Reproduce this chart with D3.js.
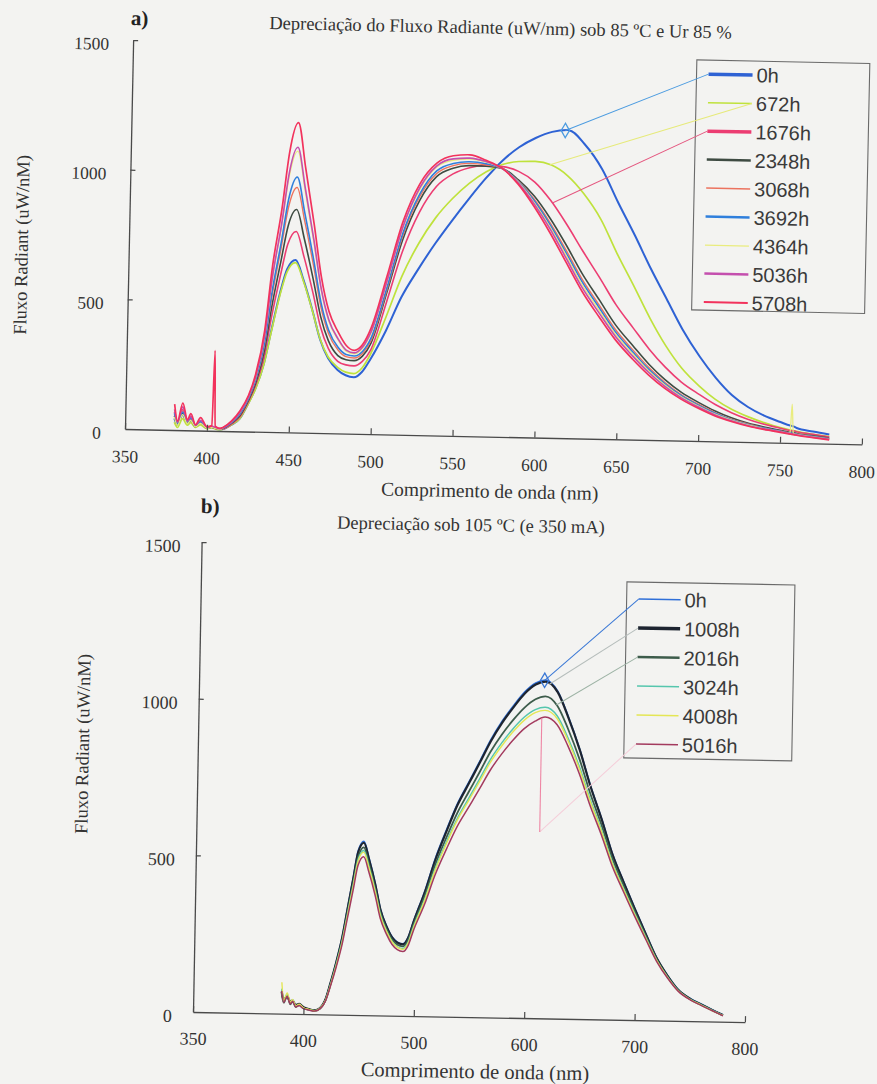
<!DOCTYPE html>
<html>
<head>
<meta charset="utf-8">
<script src="https://cdn.jsdelivr.net/npm/d3@7"></script>
<style>
body{margin:0;background:#f3f3f1;}
svg{display:block;}
</style>
</head>
<body>
<div id="chart"></div>
<script>
/* panel a) - 85 ºC / Ur 85 % */
const hoursA = ["0h","672h","1676h","2348h","3068h","3692h","4364h","5036h","5708h"];
const wavelengthA = [380,382,385,388,390,393,396,400,403,404,405,408,410,415,420,425,429,434,438,443,447,452,457,463,468,473,479,484,489,494,499,508,517,527,537,547,557,567,577,587,597,607,617,627,638,648,659,669,679,689,700,710,720,730,740,750,756,757,758,760,770,780];
const fluxA_0h = [45,20,60,25,35,15,28,10,14,12,10,6,
 8,25,50,110,165,265,390,540,630,665,590,470,360,290,245,225,218,240,290,
 400,530,640,740,830,915,995,1065,1118,1155,1180,1188,1135,1040,915,785,660,545,430,
 325,245,180,135,103,80,
 67,66,64,58,46,36];
const fluxA_672h = [30,10,45,20,30,12,22,8,12,10,8,5,
 8,25,50,108,162,262,385,532,620,655,585,468,362,295,255,237,232,255,310,
 455,610,740,840,915,975,1020,1050,1063,1065,1052,1012,945,845,718,590,470,365,280,
 212,162,125,98,76,58,
 50,49,48,45,35,28];
const fluxA_1676h = [70,25,80,30,50,18,35,12,16,14,12,8,
 9,28,56,116,177,291,443,607,725,775,680,540,410,328,278,265,262,280,325,
 510,705,860,960,1010,1035,1045,1042,1025,985,915,825,725,620,520,430,350,282,226,
 180,142,112,88,70,56,
 48,47,47,44,35,26];
const fluxA_2348h = [55,20,65,28,40,15,30,10,14,12,10,7,
 11,31,61,121,185,311,482,658,796,860,749,592,449,357,300,285,282,300,350,
 545,750,905,998,1032,1043,1042,1035,992,930,845,745,637,535,442,362,292,234,187,
 148,117,92,73,59,48,
 41,41,40,37,29,22];
const fluxA_3068h = [60,22,75,30,45,16,32,11,15,13,11,7,
 12,33,66,126,194,331,522,710,868,945,818,645,487,385,322,297,292,310,360,
 555,765,920,1010,1042,1052,1048,1035,987,918,828,725,616,515,424,346,279,223,178,
 141,111,87,70,56,45,
 39,39,38,35,27,20];
const fluxA_3692h = [65,25,70,32,48,18,34,12,16,14,12,8,
 12,34,68,128,198,340,540,732,900,985,848,668,504,398,332,305,300,318,370,
 565,775,930,1020,1050,1058,1052,1035,985,912,820,715,606,505,415,338,272,218,174,
 137,108,85,68,55,44,
 38,38,37,34,26,19];
const fluxA_4364h = [50,18,60,25,38,14,28,10,13,12,10,6,
 14,37,74,134,208,364,588,793,985,1085,930,731,550,432,360,318,308,330,390,
 585,795,948,1035,1062,1068,1058,1035,983,905,812,705,595,495,406,330,266,213,170,
 134,105,83,66,53,43,
 37,150,36,33,25,18];
const fluxA_5036h = [80,30,90,35,55,20,40,14,18,16,14,9,
 14,37,75,135,210,368,595,802,999,1100,943,741,557,438,364,322,312,335,395,
 590,800,955,1040,1068,1072,1060,1035,980,900,805,695,585,485,398,322,260,208,166,
 130,102,81,64,52,42,
 36,35,34,32,24,17];
const fluxA_5708h = [100,35,105,40,65,22,50,15,20,310,18,10,
 15,40,80,140,220,390,640,860,1080,1195,1020,800,600,470,390,340,322,345,410,
 610,820,970,1050,1080,1085,1065,1035,975,890,790,680,570,470,385,310,250,200,160,
 125,98,78,62,50,40,
 34,33,32,30,22,15];
const ticksXA = [350,400,450,500,550,600,650,700,750,800];
const labelsXA = ["350","400","450","500","550","600","650","700","750","800"];

/* panel b) - 105 ºC / 350 mA */
const hoursB = ["0h","1008h","2016h","3024h","4008h","5016h"];
const wavelengthB = [380,382,385,388,390,393,396,400,405,410,415,420,424,429,434,438,443,447,452,457,463,468,474,479,484,489,494,498,508,517,527,536,546,556,565,575,585,595,605,614,625,635,646,656,667,677,688,698,709,719,729,739,750,760,770,780];
const fluxB_0h = [75,40,60,35,45,25,30,20,15,12,20,
 50,100,170,250,335,440,525,555,500,420,340,285,252,235,230,255,300,
 400,505,600,680,750,820,885,945,995,1040,1070,1080,1045,965,860,748,640,532,440,360,275,200,145,100,72,55,38,22];
const fluxB_1008h = [70,45,55,38,42,28,32,22,16,12,20,
 50,100,168,248,332,436,520,550,496,417,338,283,250,233,228,252,297,
 396,500,595,675,745,815,880,940,990,1035,1065,1075,1042,962,858,746,638,530,438,358,273,199,144,99,71,54,37,21];
const fluxB_2016h = [65,35,58,30,40,22,28,18,14,11,19,
 48,96,163,240,322,423,505,535,483,406,330,277,244,227,222,246,290,
 385,485,575,650,718,785,847,903,950,990,1018,1028,998,925,828,722,620,517,428,350,268,196,142,98,70,53,36,21];
const fluxB_3024h = [80,38,62,33,44,24,30,19,14,11,19,
 47,94,160,236,316,415,496,525,474,398,323,270,238,220,215,238,282,
 374,472,560,632,697,762,822,876,922,960,985,993,966,897,804,703,604,505,418,343,263,193,140,97,69,52,36,20];
const fluxB_4008h = [100,42,66,36,46,26,31,20,15,11,19,
 47,93,158,233,312,410,491,520,470,395,320,268,236,218,212,235,278,
 370,467,554,626,690,754,813,866,912,950,975,983,957,889,797,697,599,501,415,340,261,192,139,96,69,52,35,20];
const fluxB_5016h = [72,36,56,32,40,22,27,17,13,10,18,
 45,90,153,226,303,398,477,505,456,383,310,259,228,211,205,227,270,
 358,452,536,606,668,730,788,840,885,923,948,962,938,872,782,684,588,492,408,334,257,189,137,95,68,51,35,19];
const ticksXB = [300,400,500,600,700,800];
const labelsXB = ["350","400","500","600","700","800"];
const ticksY = [0,500,1000,1500];

const serif = "'Liberation Serif','Times New Roman',serif";
const sans = "'Liberation Sans',Arial,sans-serif";

const svg = d3.select("#chart").append("svg")
  .attr("width",877).attr("height",1084);
svg.append("rect").attr("width",877).attr("height",1084).attr("fill","#f3f3f1");

function drawPanel(p){
  // scanned page is a little rotated, so each panel is drawn in its own frame
  const g = svg.append("g")
    .attr("transform",`translate(${p.ox},${p.oy}) rotate(${p.angle})`);
  const x = d3.scaleLinear().domain(p.xDomain).range([0,p.w]);
  const y = d3.scaleLinear().domain([0,1500]).range([0,-p.h]);
  const at = (vals,nm)=>d3.scaleLinear().domain(p.grid).range(vals)(nm);

  const line = d3.line()
    .x((d,i)=>x(p.grid[i]))
    .y(d=>y(d))
    .curve(d3.curveMonotoneX);
  p.series.forEach((vals,i)=>{
    g.append("path").datum(vals)
      .attr("fill","none")
      .attr("stroke",p.colors[i])
      .attr("stroke-width",p.widths[i])
      .attr("stroke-linejoin","round")
      .attr("d",line);
  });

  const gx = g.append("g").call(d3.axisBottom(x)
    .tickValues(p.xTicks)
    .tickFormat((d,i)=>p.xLabels[i])
    .tickSizeInner(-6).tickSizeOuter(0).tickPadding(p.xPad));
  const gy = g.append("g").call(d3.axisLeft(y)
    .tickValues(ticksY).tickFormat(d3.format("d"))
    .tickSizeInner(-5).tickSizeOuter(0).tickPadding(p.yPad));
  [gx,gy].forEach(a=>{
    a.select(".domain").attr("stroke","#4a4a4a").attr("stroke-width",1.3);
    a.selectAll(".tick line").attr("stroke","#4a4a4a").attr("stroke-width",1.2);
    a.selectAll(".tick text").attr("font-family",serif)
      .attr("font-size",p.tickFont).attr("fill","#333");
  });
  gy.selectAll(".tick text").attr("dy","0.55em");
  gy.selectAll(".tick").filter(d=>d===0).select("line").remove();

  // legend
  const L = p.legend;
  g.append("rect").attr("x",L.x).attr("y",L.y).attr("width",L.w).attr("height",L.h)
    .attr("fill","none").attr("stroke","#6a6a6a").attr("stroke-width",1.1);
  p.names.forEach((name,i)=>{
    const cy = L.y0 + i*L.step;
    g.append("line").attr("x1",L.x1).attr("x2",L.x2).attr("y1",cy).attr("y2",cy)
      .attr("stroke",p.colors[i]).attr("stroke-width",p.legendWidths[i]);
    g.append("text").attr("x",L.x2+4).attr("y",cy).attr("dy","0.36em")
      .attr("font-family",sans).attr("font-size",L.font).attr("fill","#3a3a3a")
      .text(name);
  });

  // leader lines from the legend to the curves
  p.leaders.forEach(ld=>{
    const cy = L.y0 + ld.s*L.step;
    const sx = ld.end==="left"?L.x1:L.x2;
    const tx = x(ld.nm), ty = y(at(p.series[ld.s],ld.nm));
    const ey = ld.drop===undefined?ty:y(ld.drop);
    g.append("line").attr("x1",sx).attr("y1",cy).attr("x2",tx).attr("y2",ey)
      .attr("stroke",ld.color).attr("stroke-width",1);
    if(ld.drop!==undefined){
      g.append("line").attr("x1",tx).attr("y1",ey).attr("x2",tx).attr("y2",ty)
        .attr("stroke",ld.dropColor).attr("stroke-width",1.1);
    }
    if(ld.marker){
      g.append("path").attr("d",d3.symbol(d3.symbolDiamond,60)())
        .attr("transform",`translate(${tx},${ty})`)
        .attr("fill","none").attr("stroke",ld.color).attr("stroke-width",1.3);
    }
  });

  // texts
  g.append("text").attr("x",p.title.x).attr("y",p.title.y)
    .attr("text-anchor","middle").attr("font-family",serif)
    .attr("font-size",18.5).attr("fill","#333").text(p.title.text);
  g.append("text").attr("x",p.tag.x).attr("y",p.tag.y)
    .attr("text-anchor","middle").attr("font-family",serif).attr("font-weight","bold")
    .attr("font-size",21).attr("fill","#222").text(p.tag.text);
  g.append("text")
    .attr("transform",`translate(${p.yLabel.x},${p.yLabel.y}) rotate(-90)`)
    .attr("text-anchor","middle").attr("dominant-baseline","central")
    .attr("font-family",serif).attr("font-size",18.5).attr("fill","#333")
    .text("Fluxo Radiant (uW/nM)");
  g.append("text").attr("x",p.xLabel.x).attr("y",p.xLabel.y)
    .attr("text-anchor","middle").attr("font-family",serif)
    .attr("font-size",p.xLabel.size).attr("fill","#333")
    .text("Comprimento de onda (nm)");
}

drawPanel({
  ox:125, oy:429, angle:1.2, w:737, h:389,
  xDomain:[350,800], xTicks:ticksXA, xLabels:labelsXA, xPad:21, yPad:24, tickFont:17.5,
  grid:wavelengthA,
  series:[fluxA_0h,fluxA_672h,fluxA_1676h,fluxA_2348h,fluxA_3068h,fluxA_3692h,fluxA_4364h,fluxA_5036h,fluxA_5708h],
  names:hoursA,
  colors:["#2e62d4","#bfe23c","#ec3d72","#3e4b42","#ec735f","#2f7fdc","#e9ec7e","#c44fae","#f2325c"],
  widths:[2,1.7,1.6,1.6,1.4,1.6,1.3,1.6,1.7],
  legendWidths:[3.5,1.5,3.5,2.5,1.5,2.5,1.2,2.5,2],
  legend:{x:564,y:-381,w:173,h:250,y0:-367,step:28.5,x1:576,x2:620,font:20},
  leaders:[
    {s:0,end:"left",nm:615,color:"#4b9be0",marker:true},
    {s:1,end:"right",nm:606,color:"#e6ea7a"},
    {s:2,end:"left",nm:608,color:"#e4557e"}
  ],
  title:{x:367,y:-403,text:"Depreciação do Fluxo Radiante (uW/nm) sob 85 ºC e Ur 85 %"},
  tag:{x:6,y:-404,text:"a)"},
  yLabel:{x:-107,y:-182},
  xLabel:{x:366,y:61,size:19.5}
});

drawPanel({
  ox:193, oy:1012, angle:1.05, w:552, h:470,
  xDomain:[300,800], xTicks:ticksXB, xLabels:labelsXB, xPad:20, yPad:21, tickFont:18,
  grid:wavelengthB,
  series:[fluxB_0h,fluxB_1008h,fluxB_2016h,fluxB_3024h,fluxB_4008h,fluxB_5016h],
  names:hoursB,
  colors:["#2f6fd8","#1d2430","#3d5c4b","#55c6ad","#e4e655","#a33a5e"],
  widths:[1.6,2.2,1.8,1.5,1.4,1.5],
  legendWidths:[1.5,3.5,2.5,1.5,1.5,1.5],
  legend:{x:426,y:-438,w:168,h:176,y0:-421,step:29,x1:438,x2:480,font:20},
  leaders:[
    {s:0,end:"left",nm:613,color:"#3a78d6",marker:true},
    {s:1,end:"left",nm:617,color:"#b5bdbb"},
    {s:2,end:"left",nm:624,color:"#9db3a5"},
    {s:5,end:"left",nm:611,drop:595,color:"#f5cdd9",dropColor:"#ee86a4"}
  ],
  title:{x:269,y:-486,text:"Depreciação sob 105 ºC (e 350 mA)"},
  tag:{x:8,y:-499,text:"b)"},
  yLabel:{x:-115,y:-266},
  xLabel:{x:283,y:61,size:20.5}
});
</script>
</body>
</html>
